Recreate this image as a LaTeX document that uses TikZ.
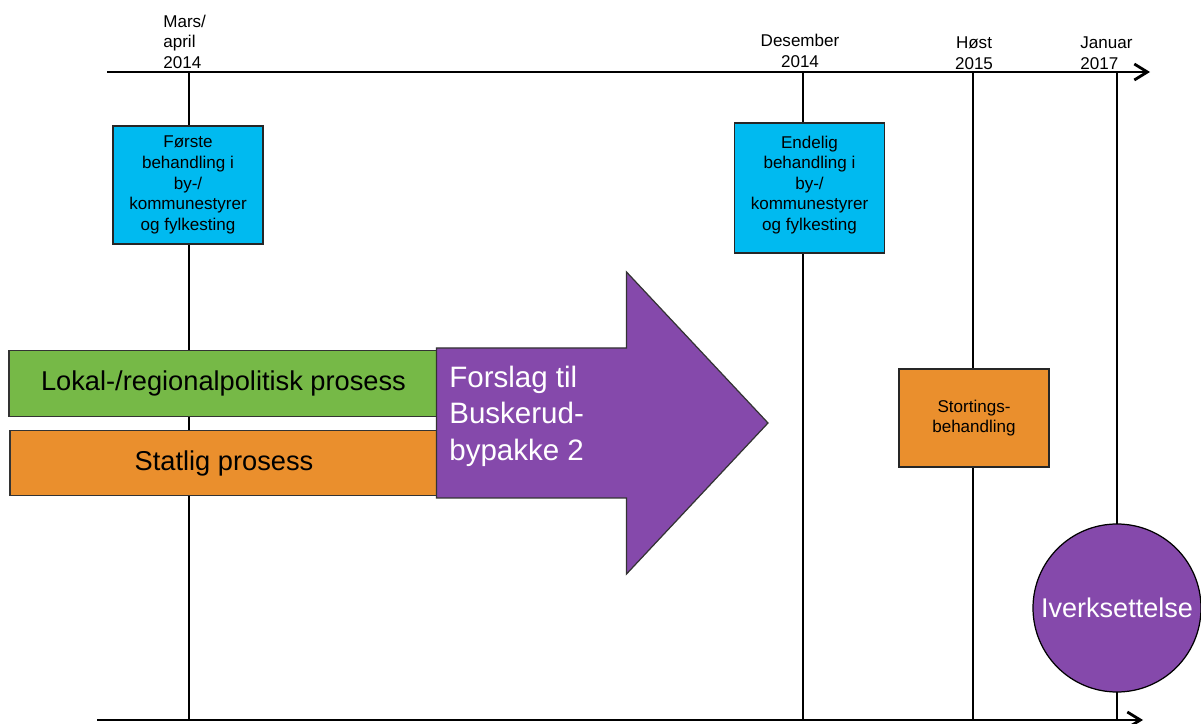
\documentclass[tikz,border=0pt]{standalone}
\usepackage{fontspec}
\setmainfont{Liberation Sans}
\usepackage{xcolor}
\definecolor{boxCyan}{RGB}{0,186,240}
\definecolor{barGreen}{RGB}{118,185,71}
\definecolor{barOrange}{RGB}{234,143,45}
\definecolor{phasePurple}{RGB}{133,73,171}
\usepackage{tikz}
\usetikzlibrary{positioning, arrows.meta, backgrounds}

\begin{document}
\begin{tikzpicture}[
		font=\fontsize{9.7}{11.7}\selectfont,
		datelbl/.style={inner sep=0pt, align=left},
		meeting/.style={rectangle, draw=black!85, line width=0.8pt, fill=boxCyan,
			minimum width=3.0cm, align=center},
		storting/.style={rectangle, draw=black!85, line width=0.8pt, fill=barOrange,
			minimum width=3.0cm, minimum height=1.96cm, align=center},
		bar/.style={rectangle, draw=black!80, line width=0.7pt, minimum height=1.31cm,
			font=\fontsize{15.5}{18}\selectfont},
		bigarrow/.style={draw=black!80, line width=0.7pt, fill=phasePurple},
		arrowtxt/.style={inner sep=0pt, align=left, text=white,
			font=\fontsize{16.8}{20.8}\selectfont},
		phase/.style={circle, draw=black, line width=0.7pt, fill=phasePurple,
			minimum size=3.36cm, inner sep=0pt, text=white,
			font=\fontsize{15.4}{18}\selectfont},
		axis/.style={line width=1.1pt, -{Straight Barb[length=0.26cm, width=0.32cm, line width=1.6pt]}},
		tick/.style={line width=1.1pt}
		]
		\useasboundingbox (0,0) rectangle (24.02,14.46);

		% time axes
		\coordinate (axL)   at (2.14,13.02);
		\coordinate (axR)   at (23.0,13.02);
		\coordinate (baseL) at (1.94,0.06);
		\coordinate (baseR) at (22.86,0.06);
		\foreach \x/\n in {3.78/1, 16.06/2, 19.46/3, 22.34/4}{
			\coordinate (t\n) at (\x,13.02);
			\coordinate (b\n) at (\x,0.06);
		}

		% dates
		\node[datelbl, anchor=south west] (lblMars) at (3.26,13.08) {Mars/\\april\\2014};
		\node[datelbl, align=center, anchor=south] (lblDes) at (16.0,13.10) {Desember\\2014};
		\node[datelbl, align=center, anchor=south] (lblHost) at (19.48,13.06) {Høst\\2015};
		\node[datelbl, anchor=south west] (lblJan) at (21.6,13.06) {Januar\\2017};

		% processes
		\node[bar, fill=barGreen, minimum width=8.58cm]  (lokal)   at (4.47,6.79)
		{Lokal-/regionalpolitisk prosess};
		\node[bar, fill=barOrange, minimum width=8.56cm] (statlig) at (4.48,5.20)
		{Statlig prosess};
		\filldraw[bigarrow] (8.73,7.50) -- (12.53,7.50) -- (12.53,9.02) -- (15.36,6.00)
			-- (12.53,2.98) -- (12.53,4.50) -- (8.73,4.50) -- cycle;
		\node[arrowtxt, anchor=west] (forslag) at (8.98,6.14)
		{Forslag til\\Buskerud-\\bypakke 2};

		% milestones
		\node[meeting, minimum height=2.36cm] (forste)  at (3.76,10.76)
		{Første\\behandling i\\by-/\\kommunestyrer\\og fylkesting};
		\node[meeting, minimum height=2.6cm]  (endelig) at (16.19,10.70)
		{Endelig\\behandling i\\by-/\\kommunestyrer\\og fylkesting\\[-6pt]};
		\node[storting] (stort) at (19.48,6.10) {Stortings-\\behandling};
		\node[phase] (iverk) at (22.34,2.30) {Iverksettelse};

		\begin{scope}[on background layer]
			\foreach \n in {1,...,4}
				\draw[tick] (t\n) -- (b\n);
			\draw[axis] (axL) -- (axR);
			\draw[axis, line width=1.5pt] (baseL) -- (baseR);
		\end{scope}
	\end{tikzpicture}
\end{document}
